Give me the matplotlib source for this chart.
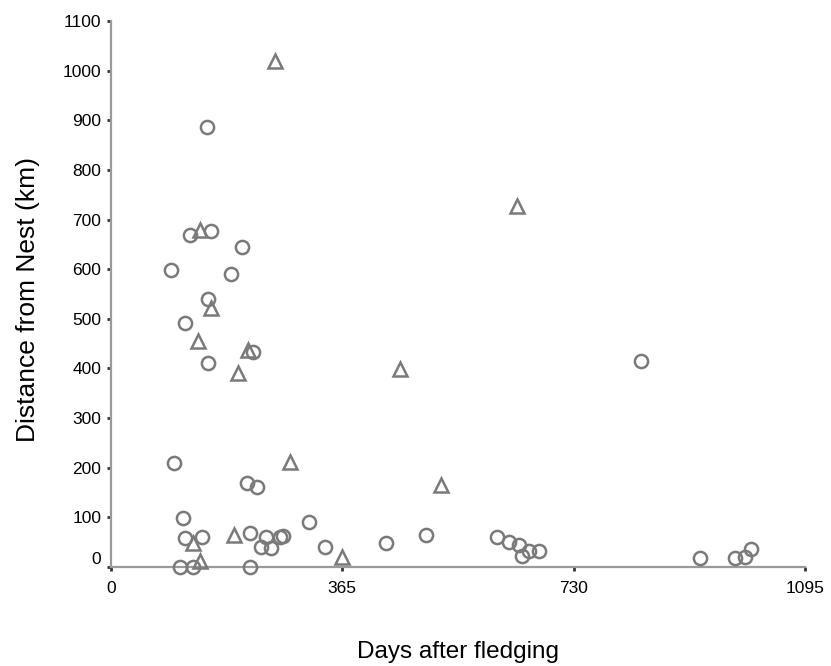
import matplotlib
matplotlib.use("Agg")
import matplotlib.pyplot as plt
import matplotlib.transforms as mtransforms

plt.rcParams["font.family"] = ["Liberation Sans", "DejaVu Sans"]

# circles: days after fledging, distance from nest (km)
circle_days = [94, 151, 124, 157, 206, 190, 153, 116, 153, 224, 99, 214, 231,
               113, 313, 116, 143, 219, 245, 237, 253, 266, 271, 337, 109, 129,
               219, 434, 497, 609, 628, 643, 648, 659, 675, 837, 930, 985, 1000,
               1010]
circle_dist = [598, 886, 669, 677, 645, 590, 540, 491, 411, 433, 209, 169, 162,
               99, 91, 58, 60, 68, 60, 40, 38, 60, 62, 40, 0, 0,
               0, 48, 64, 60, 50, 45, 22, 32, 32, 415, 18, 18, 20,
               36]

# triangles
tri_days = [258, 140, 157, 137, 216, 201, 282, 129, 194, 365, 140, 456, 521, 640]
tri_dist = [1019, 679, 522, 455, 437, 391, 212, 48, 64, 20, 12, 399, 165, 727]

x_ticks = [0, 365, 730, 1095]
y_ticks = list(range(0, 1101, 100))

grey = "#7a7a7a"

fig = plt.figure(figsize=(8.31, 6.66), dpi=100)
ax = fig.add_axes([0.1336, 0.1486, 0.8351, 0.8199])

ax.plot(circle_days, circle_dist, linestyle="none", marker="o", markersize=9.5,
        markerfacecolor="none", markeredgecolor=grey, markeredgewidth=1.8,
        clip_on=False, zorder=3)
ax.plot(tri_days, tri_dist, linestyle="none", marker="^", markersize=10,
        markerfacecolor="none", markeredgecolor=grey, markeredgewidth=1.8,
        clip_on=False, zorder=3)

ax.set_xlim(0, 1095)
ax.set_ylim(0, 1100)
ax.set_xticks(x_ticks)
ax.set_yticks(y_ticks)

for side in ["top", "right"]:
    ax.spines[side].set_visible(False)
for side in ["left", "bottom"]:
    ax.spines[side].set_color("#9a9a9a")
    ax.spines[side].set_linewidth(1.6)

ax.tick_params(axis="both", direction="out", length=3, width=2, color="#333333",
               labelsize=12.5, labelcolor="black")
ax.tick_params(axis="y", pad=4)
ax.tick_params(axis="x", pad=7)

# the "0" on the y axis sits a bit above the axis line
fig.canvas.draw()
zero_lbl = ax.get_yticklabels()[0]
zero_lbl.set_transform(zero_lbl.get_transform() +
                       mtransforms.ScaledTranslation(0, 6.5 / 72, fig.dpi_scale_trans))

ax.set_xlabel("Days after fledging", fontsize=17.5)
ax.set_ylabel("Distance from Nest (km)", fontsize=19)
ax.xaxis.label.set_va("center")
ax.yaxis.label.set_va("center")
ax.xaxis.set_label_coords(0.5, -0.156)
ax.yaxis.set_label_coords(-0.12, 0.49)

fig.savefig("out.png", dpi=100)
